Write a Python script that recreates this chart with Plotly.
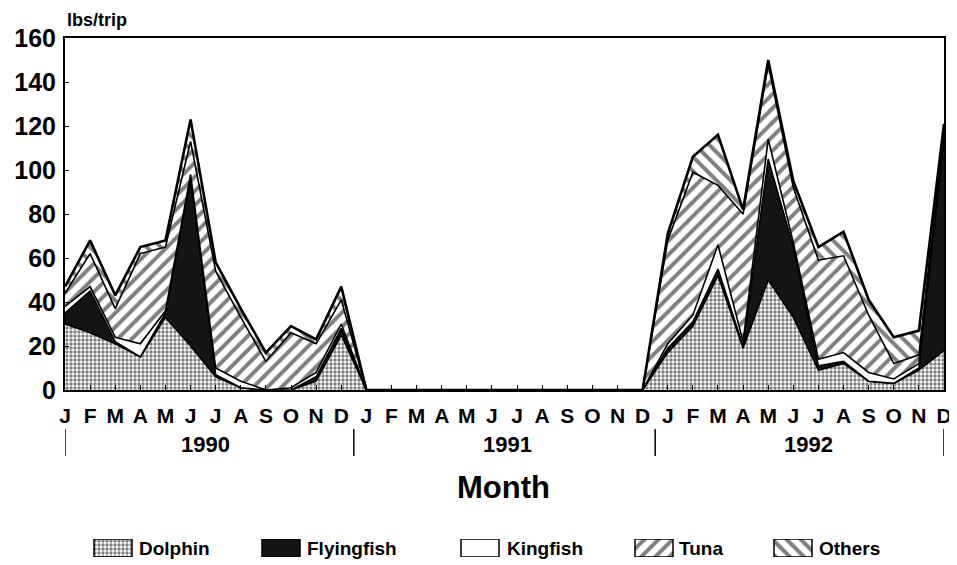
import plotly.graph_objects as go

# Monthly catch (lbs/trip), Jan 1990 - Dec 1992
MONTHS = ["J", "F", "M", "A", "M", "J", "J", "A", "S", "O", "N", "D"]
YEARS = ["1990", "1991", "1992"]

dolphin_1990 = [30, 26, 21, 15, 33, 20, 6, 1, 0, 0, 4, 25]
flyingfish_1990 = [5, 19, 1, 0, 2, 76, 1, 0, 0, 0, 2, 3]
kingfish_1990 = [3, 2, 2, 6, 1, 2, 3, 3, 0, 1, 2, 2]
tuna_1990 = [6, 15, 13, 41, 29, 15, 44, 29, 13, 25, 13, 11]
others_1990 = [3, 6, 6, 3, 3, 10, 4, 4, 4, 3, 2, 6]

# no trips recorded in 1991
zeros_1991 = [0] * 12

dolphin_1992 = [17, 29, 52, 19, 50, 33, 9, 12, 4, 3, 9, 18]
flyingfish_1992 = [2, 2, 3, 1, 55, 32, 2, 1, 0, 0, 1, 96]
kingfish_1992 = [2, 3, 11, 2, 9, 2, 3, 4, 4, 2, 2, 2]
tuna_1992 = [47, 65, 27, 58, 34, 25, 45, 44, 26, 7, 4, 3]
others_1992 = [3, 7, 23, 2, 2, 3, 6, 11, 7, 12, 11, 2]

FONT = "Liberation Sans, Arial, sans-serif"

DOTS = dict(shape=".", fgcolor="black", bgcolor="white", size=4, solidity=0.55)
FWD = dict(shape="/", fgcolor="black", bgcolor="white", size=10, solidity=0.4)
BACK = dict(shape="\\", fgcolor="black", bgcolor="white", size=10, solidity=0.4)

# page body adds an 8px offset, so the figure is drawn 8px smaller
W, H = 949, 557
ML, MR, MT, MB = 57, 13, 30, 5
PAPER_H = H - MT - MB


def py(screen_y):
    # screen pixel row -> paper fraction
    return (H + 8 - MB - screen_y) / PAPER_H


def px(screen_x):
    return (screen_x - 65) / (W - ML - MR)


x = list(range(36))
series = [
    ("Dolphin", dolphin_1990 + zeros_1991 + dolphin_1992, "white", DOTS),
    ("Flyingfish", flyingfish_1990 + zeros_1991 + flyingfish_1992, "#141414", None),
    ("Kingfish", kingfish_1990 + zeros_1991 + kingfish_1992, "white", None),
    ("Tuna", tuna_1990 + zeros_1991 + tuna_1992, "white", FWD),
    ("Others", others_1990 + zeros_1991 + others_1992, "white", BACK),
]

fig = go.Figure()
for name, vals, color, pat in series:
    fig.add_trace(go.Scatter(
        x=x, y=vals, name=name, mode="lines", stackgroup="catch",
        line=dict(color="black", width=2.6 if name == "Others" else 1.6),
        fillcolor=color, fillpattern=pat, showlegend=False,
    ))

# hand-made key: outlined swatches on a small helper axis + bold labels
key_swatch_x = [113, 281, 480, 654, 793]
key_text_x = [137, 305, 505, 677, 817]
for (name, vals, color, pat), sx, tx in zip(series, key_swatch_x, key_text_x):
    fig.add_trace(go.Bar(
        x=[px(sx)], y=[1], base=0, width=[38 / 879], xaxis="x2", yaxis="y2",
        showlegend=False, hoverinfo="skip",
        marker=dict(color=color, line=dict(color="black", width=1.5),
                    pattern=pat if pat else dict(shape="")),
    ))
    fig.add_annotation(x=px(tx), y=py(548), xref="paper", yref="paper", text=name,
                       xanchor="left", yanchor="middle", showarrow=False,
                       font=dict(size=19, weight="bold", family=FONT))

fig.update_layout(
    width=W, height=H,
    margin=dict(l=ML, r=MR, t=MT, b=MB, autoexpand=False),
    paper_bgcolor="white", plot_bgcolor="white",
    font=dict(family=FONT, color="black"),
    showlegend=False,
    xaxis=dict(
        range=[0, 35], tickvals=x, ticktext=MONTHS * 3,
        tickfont=dict(size=21, weight="bold", family=FONT),
        showline=True, linecolor="black", linewidth=2, mirror=True,
        ticks="inside", ticklen=5, tickcolor="black", automargin=False,
        ticklabelstandoff=6, showgrid=False, zeroline=False,
    ),
    yaxis=dict(
        domain=[py(390), 1],
        range=[0, 160], dtick=20,
        tickfont=dict(size=25, weight="bold", family=FONT),
        showline=True, linecolor="black", linewidth=2, mirror=True,
        ticks="inside", ticklen=4, tickcolor="black", automargin=False,
        ticklabelstandoff=2, showgrid=False, zeroline=False,
    ),
    xaxis2=dict(domain=[0, 1], range=[0, 1], visible=False, anchor="y2"),
    yaxis2=dict(domain=[py(557), py(539)], range=[0, 1], visible=False, anchor="x2"),
)

# year labels and separators under the month ticks
for i, yr in enumerate(YEARS):
    fig.add_annotation(x=12 * i + 5.6, y=py(444), xref="x", yref="paper", text=yr,
                       yanchor="middle", showarrow=False,
                       font=dict(size=22, weight="bold", family=FONT))
for xs in [0, 11.5, 23.5, 35]:
    fig.add_shape(type="line", xref="x", yref="paper", x0=xs, x1=xs, y0=py(429), y1=py(456),
                  line=dict(color="black", width=1.5))

fig.add_annotation(x=px(503), y=py(487), xref="paper", yref="paper", text="Month",
                   yanchor="middle", showarrow=False,
                   font=dict(size=31, weight="bold", family=FONT))
fig.add_annotation(x=0, y=py(20), xref="paper", yref="paper", text="lbs/trip",
                   xanchor="left", yanchor="middle", showarrow=False,
                   font=dict(size=18, weight="bold", family=FONT))

fig.write_html("out.html")
